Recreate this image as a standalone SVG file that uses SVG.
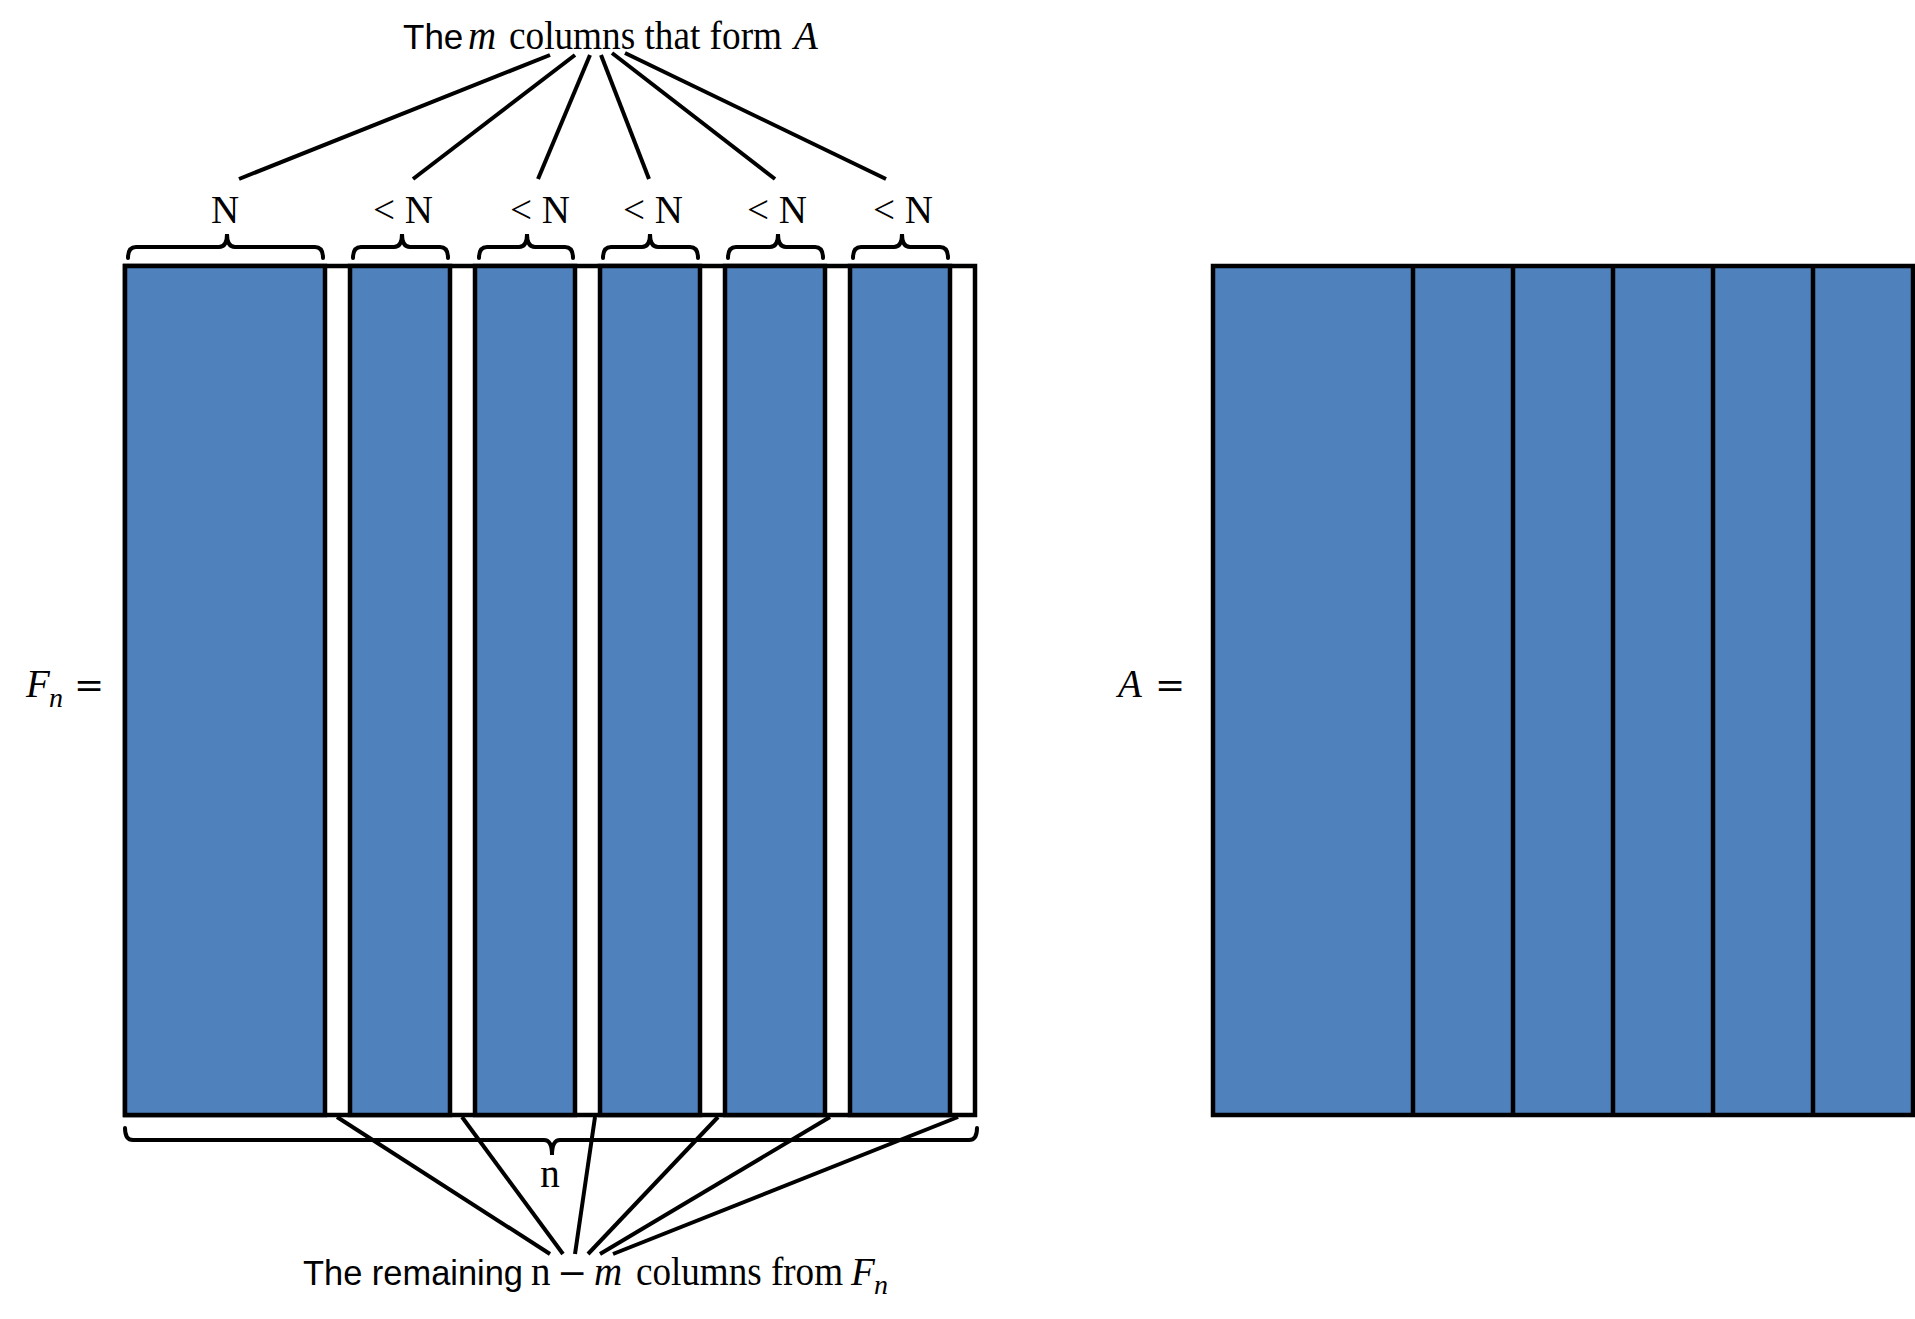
<svg xmlns="http://www.w3.org/2000/svg" width="1915" height="1319" viewBox="0 0 1915 1319">
<style>
.bg{fill:#ffffff}
.col{fill:#4F81BD;stroke:#000;stroke-width:4.5}
.frame{fill:#ffffff;stroke:#000;stroke-width:4.5}
.div{stroke:#000;stroke-width:4.5}
.conn{stroke:#000;stroke-width:4;fill:none}
.brace{stroke:#000;stroke-width:4;fill:none;stroke-linecap:round}
.sans{font-family:"Liberation Sans",Arial,sans-serif;font-size:35px;fill:#000}
.serif{font-family:"Liberation Serif","Times New Roman",serif;font-size:39px;fill:#000}
.it{font-style:italic}
.op{font-family:"DejaVu Serif","Liberation Serif",serif;font-size:36px;fill:#000}
.sub{font-family:"Liberation Serif","Times New Roman",serif;font-size:28px;font-style:italic;fill:#000}
</style>
<rect class="bg" x="0" y="0" width="1915" height="1319"/>

<g id="matrix-Fn">
  <rect class="frame" x="125" y="266" width="850" height="849"/>
  <rect class="col" x="125" y="266" width="200" height="849"/>
  <rect class="col" x="350" y="266" width="100" height="849"/>
  <rect class="col" x="475" y="266" width="100" height="849"/>
  <rect class="col" x="600" y="266" width="100" height="849"/>
  <rect class="col" x="725" y="266" width="100" height="849"/>
  <rect class="col" x="850" y="266" width="100" height="849"/>
</g>

<g id="matrix-A">
  <rect class="col" x="1213" y="266" width="700" height="849"/>
  <line class="div" x1="1413" y1="266" x2="1413" y2="1115"/>
  <line class="div" x1="1513" y1="266" x2="1513" y2="1115"/>
  <line class="div" x1="1613" y1="266" x2="1613" y2="1115"/>
  <line class="div" x1="1713" y1="266" x2="1713" y2="1115"/>
  <line class="div" x1="1813" y1="266" x2="1813" y2="1115"/>
</g>

<g id="braces">
  <path class="brace" d="M128,258 Q128,247 136,247 H219 Q227,247 227,234 Q227,247 235,247 H315 Q323,247 323,258"/>
  <path class="brace" d="M353,258 Q353,247 361,247 H394 Q402,247 402,234 Q402,247 410,247 H440 Q448,247 448,258"/>
  <path class="brace" d="M479,258 Q479,247 487,247 H519 Q527,247 527,234 Q527,247 535,247 H565 Q573,247 573,258"/>
  <path class="brace" d="M603,258 Q603,247 611,247 H642 Q650,247 650,234 Q650,247 658,247 H690 Q698,247 698,258"/>
  <path class="brace" d="M728,258 Q728,247 736,247 H770 Q778,247 778,234 Q778,247 786,247 H815 Q823,247 823,258"/>
  <path class="brace" d="M853,258 Q853,247 861,247 H894 Q902,247 902,234 Q902,247 910,247 H940 Q948,247 948,258"/>
  <path class="brace" d="M125,1128 Q125,1140 133,1140 H544 Q552,1140 552,1155 Q552,1140 560,1140 H969 Q977,1140 977,1128"/>
</g>

<g id="connectors">
  <line class="conn" x1="550" y1="55" x2="239" y2="179"/>
  <line class="conn" x1="575" y1="55" x2="413" y2="179"/>
  <line class="conn" x1="590" y1="55" x2="538" y2="179"/>
  <line class="conn" x1="601" y1="55" x2="649" y2="179"/>
  <line class="conn" x1="612" y1="53" x2="775" y2="179"/>
  <line class="conn" x1="625" y1="53" x2="886" y2="179"/>
  <line class="conn" x1="337" y1="1117" x2="550" y2="1254"/>
  <line class="conn" x1="462" y1="1117" x2="563" y2="1254"/>
  <line class="conn" x1="595" y1="1117" x2="575" y2="1254"/>
  <line class="conn" x1="718" y1="1117" x2="588" y2="1254"/>
  <line class="conn" x1="830" y1="1117" x2="600" y2="1254"/>
  <line class="conn" x1="958" y1="1117" x2="613" y2="1254"/>
</g>

<g id="labels-top">
  <text class="serif" x="225" y="223" text-anchor="middle">N</text>
  <text class="serif" x="403" y="223" text-anchor="middle" textLength="60" lengthAdjust="spacing">&lt; N</text>
  <text class="serif" x="540" y="223" text-anchor="middle" textLength="60" lengthAdjust="spacing">&lt; N</text>
  <text class="serif" x="653" y="223" text-anchor="middle" textLength="60" lengthAdjust="spacing">&lt; N</text>
  <text class="serif" x="777" y="223" text-anchor="middle" textLength="60" lengthAdjust="spacing">&lt; N</text>
  <text class="serif" x="903" y="223" text-anchor="middle" textLength="60" lengthAdjust="spacing">&lt; N</text>
</g>

<g id="title-top">
  <text class="sans" x="403" y="49">The</text>
  <text class="serif it" x="468" y="49">m</text>
  <text class="serif" x="509" y="49" textLength="273" lengthAdjust="spacingAndGlyphs">columns that form</text>
  <text class="serif it" x="794" y="49">A</text>
</g>

<g id="label-n">
  <text class="serif" x="550" y="1187" text-anchor="middle">n</text>
</g>

<g id="title-bottom">
  <text class="sans" x="303" y="1285" textLength="220" lengthAdjust="spacingAndGlyphs">The remaining</text>
  <text class="serif" x="531" y="1285">n</text>
  <text class="op" x="557" y="1285">−</text>
  <text class="serif it" x="594" y="1285">m</text>
  <text class="serif" x="636" y="1285" textLength="207" lengthAdjust="spacingAndGlyphs">columns from</text>
  <text class="serif it" x="851" y="1285">F</text>
  <text class="sub" x="874" y="1294">n</text>
</g>

<g id="label-Fn">
  <text class="serif it" x="26" y="697">F</text>
  <text class="sub" x="49" y="707">n</text>
  <text class="op" x="74" y="697">=</text>
</g>

<g id="label-A">
  <text class="serif it" x="1118" y="697">A</text>
  <text class="op" x="1155" y="697">=</text>
</g>
</svg>
